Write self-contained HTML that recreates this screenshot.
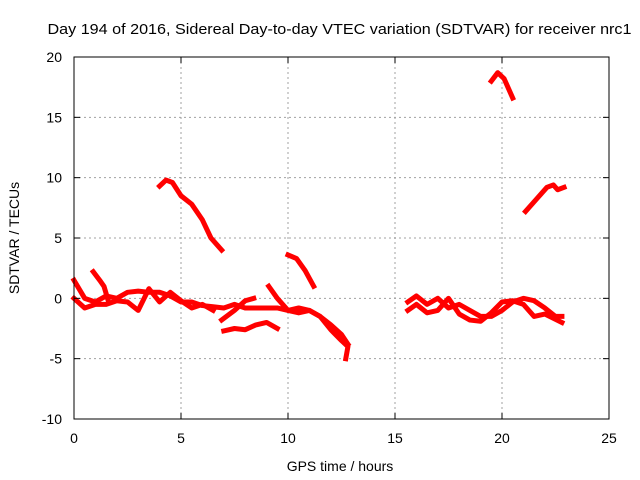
<!DOCTYPE html>
<html><head><meta charset="utf-8"><style>
body{margin:0;background:#fff}
svg{display:block;font-family:"Liberation Sans",sans-serif}
</style></head><body>
<svg id="chart" width="640" height="480">
<text x="339.5" y="34" font-size="15" textLength="584" lengthAdjust="spacingAndGlyphs" text-anchor="middle">Day 194 of 2016, Sidereal Day-to-day VTEC variation (SDTVAR) for receiver nrc1</text>
<text x="340" y="471" font-size="14" text-anchor="middle">GPS time / hours</text>
<text transform="translate(19,238) rotate(-90)" font-size="14" text-anchor="middle">SDTVAR / TECUs</text>
<g id="grid"></g><g id="series"></g><g id="axes"></g>
</svg>
<script>
const xTicks=[0,5,10,15,20,25];
const yTicks=[-10,-5,0,5,10,15,20];
const s1=[[4.0,9.3],[4.3,9.8],[4.6,9.6],[5.0,8.5],[5.5,7.8],[6.0,6.5],[6.4,5.0],[6.9,4.0]];
const s2=[[10,3.6],[10.4,3.3],[10.8,2.3],[11.2,1.0]];
const s3=[[19.5,18.0],[19.8,18.7],[20.1,18.2],[20.5,16.6]];
const s4=[[21.1,7.2],[21.6,8.2],[22.1,9.2],[22.4,9.4],[22.6,9.0],[22.9,9.2]];
const s5=[[0,1.5],[0.5,0],[1,-0.3],[1.5,0.2],[2,0],[2.5,0.5],[3,0.6],[3.5,0.5],[4,0.5],[4.5,0.2],[5,-0.3],[5.5,-0.3],[6,-0.6],[6.5,-0.7],[7,-0.8],[7.5,-0.5],[8,-0.8],[8.5,-0.8],[9,-0.8],[9.5,-0.8],[10,-1.0],[10.5,-0.8],[11,-1.0],[11.5,-1.5],[12,-2.2],[12.5,-3.0],[12.8,-3.8]];
const s6=[[0,0],[0.5,-0.8],[1,-0.5],[1.5,-0.5],[2,-0.2],[2.5,-0.3],[3,-1.0],[3.5,0.8],[4,-0.3],[4.5,0.5],[5,-0.2],[5.5,-0.8],[6,-0.5],[6.5,-1.0]];
const s7=[[0.9,2.2],[1.2,1.5],[1.4,1.0],[1.6,-0.2]];
const s8=[[7,-2.7],[7.5,-2.5],[8,-2.6],[8.5,-2.2],[9,-2.0],[9.5,-2.5]];
const s9=[[6.9,-1.8],[7.5,-1.0],[8,-0.2],[8.4,0]];
const s10=[[9.1,1.0],[9.5,0],[10,-1.0],[10.5,-1.2],[11,-1.0],[11.5,-1.5],[12,-2.6],[12.5,-3.5],[12.8,-4.0],[12.7,-5.0]];
const s11=[[15.6,-0.3],[16,0.2],[16.5,-0.5],[17,0],[17.5,-0.8],[18,-0.5],[18.5,-1.0],[19,-1.5],[19.5,-1.5],[20,-1.0],[20.5,-0.3],[21,0],[21.5,-0.2],[22,-0.8],[22.5,-1.5],[22.8,-1.5]];
const s12=[[15.6,-1.0],[16,-0.5],[16.5,-1.2],[17,-1.0],[17.5,0],[18,-1.3],[18.5,-1.8],[19,-1.9],[19.5,-1.2],[20,-0.3],[20.5,-0.2],[21,-0.5],[21.5,-1.5],[22,-1.3],[22.8,-2.0]];
const allSeries=[s1,s2,s3,s4,s5,s6,s7,s8,s9,s10,s11,s12];
const X0=74,X1=609,Y0=419,Y1=57;
const xs=h=>X0+(h-0)/25*(X1-X0);
const ys=v=>Y0-(v+10)/30*(Y0-Y1);
const NS="http://www.w3.org/2000/svg";
const grid=document.getElementById('grid'),axes=document.getElementById('axes'),ser=document.getElementById('series');
function mk(tag,attrs,parent){const e=document.createElementNS(NS,tag);for(const k in attrs)e.setAttribute(k,attrs[k]);parent.appendChild(e);return e;}
xTicks.forEach(t=>{const x=xs(t);
 if(t>0&&t<25){const g=mk('line',{x1:x,x2:x,y1:Y0,y2:Y1,stroke:'#a0a0a0','stroke-dasharray':'2,3'},grid);
 
 }
 const l=mk('text',{x:x,y:Y0+24,'font-size':14,'text-anchor':'middle'},axes);l.textContent=t;
 
 
 mk('line',{x1:x,x2:x,y1:Y0,y2:Y0-6,stroke:'#000'},axes);mk('line',{x1:x,x2:x,y1:Y1,y2:Y1+6,stroke:'#000'},axes);});
yTicks.forEach(t=>{const y=ys(t);
 if(t>-10&&t<20){const g=mk('line',{x1:X0,x2:X1,y1:y,y2:y,stroke:'#a0a0a0','stroke-dasharray':'2,3'},grid);
 
 }
 const l=mk('text',{x:X0-12,y:y+5,'font-size':14,'text-anchor':'end'},axes);l.textContent=t;
 
 
 mk('line',{x1:X0,x2:X0+6,y1:y,y2:y,stroke:'#000'},axes);mk('line',{x1:X1,x2:X1-6,y1:y,y2:y,stroke:'#000'},axes);});
const fr=mk('rect',{x:X0,y:Y1,width:X1-X0,height:Y0-Y1,fill:'none',stroke:'#000'},axes);


allSeries.forEach((s,i)=>{const p=mk('polyline',{points:s.map(d=>xs(d[0])+','+ys(d[1])).join(' '),fill:'none',stroke:'#ff0000','stroke-width':5,'stroke-linejoin':'round','stroke-linecap':'square'},ser);
 
 });
</script>
</body></html>
